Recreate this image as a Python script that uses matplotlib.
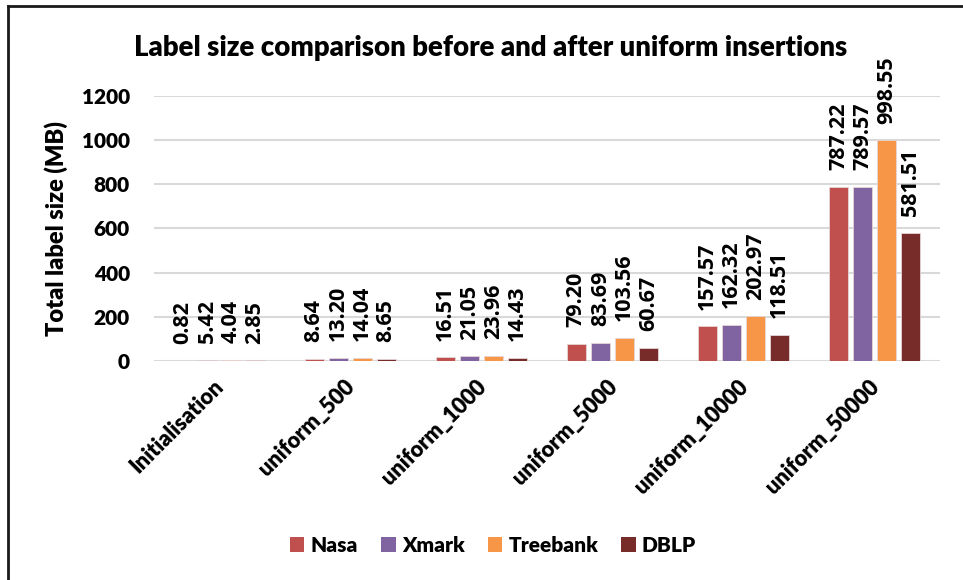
import numpy as np
import matplotlib.pyplot as plt
import matplotlib.transforms as mtransforms
from matplotlib.lines import Line2D
from matplotlib.patches import Patch

categories = ["Initialisation", "uniform_500", "uniform_1000",
              "uniform_5000", "uniform_10000", "uniform_50000"]
series_names = ["Nasa", "Xmark", "Treebank", "DBLP"]
nasa = [0.82, 8.64, 16.51, 79.20, 157.57, 787.22]
xmark = [5.42, 13.20, 21.05, 83.69, 162.32, 789.57]
treebank = [4.04, 14.04, 23.96, 103.56, 202.97, 998.55]
dblp = [2.85, 8.65, 14.43, 60.67, 118.51, 581.51]
colors = ["#C0504D", "#8064A2", "#F79646", "#772C2A"]

label_font = "Lato"
value_font = "Open Sans"
heavy = "heavy"

fig = plt.figure(figsize=(9.63, 5.8), dpi=100)
ax = fig.add_axes([0.1594, 0.3776, 0.8167, 0.4569])

x = np.arange(len(categories))
width = 0.145
step = 0.183
all_series = [nasa, xmark, treebank, dblp]
for i, (name, vals, col) in enumerate(zip(series_names, all_series, colors)):
    pos = x + (i - 1.5) * step
    ax.bar(pos, vals, width=width, color=col, edgecolor="#E6D6D6",
           linewidth=0.6, zorder=3, label=name)
    for px, v in zip(pos, vals):
        ax.annotate(f"{v:.2f}", xy=(px, v), xytext=(0, 12),
                    textcoords="offset points", rotation=90,
                    ha="center", va="bottom", fontsize=15.5,
                    fontweight="bold", family=value_font,
                    annotation_clip=False, zorder=4)

ax.set_xlim(-0.5, len(categories) - 0.5)
ax.set_ylim(0, 1200)
ax.set_yticks(np.arange(0, 1201, 200))
ax.grid(axis="y", color="#D9D9D9", linewidth=1.5, zorder=0)
ax.set_axisbelow(True)
for s in ax.spines.values():
    s.set_visible(False)
ax.tick_params(axis="both", length=0)
ax.tick_params(axis="y", pad=17)
ax.tick_params(axis="x", pad=8)

ax.set_xticks(x)
ax.set_xticklabels(categories, rotation=45, ha="right", va="top",
                   rotation_mode="anchor", fontsize=15.7,
                   fontweight=heavy, family=label_font)
shift = mtransforms.ScaledTranslation(-6 / 100, -4 / 100, fig.dpi_scale_trans)
for t in ax.get_xticklabels():
    t.set_transform(t.get_transform() + shift)
for t in ax.get_yticklabels():
    t.set_fontsize(15)
    t.set_fontweight(heavy)
    t.set_family(label_font)

ax.set_ylabel("Total label size (MB)", fontsize=17, fontweight=heavy,
              family=label_font, labelpad=10)

fig.text(0.509, 0.918, "Label size comparison before and after uniform insertions",
         ha="center", va="center", fontsize=19.8, fontweight=heavy,
         family=label_font)

handles = [Patch(facecolor=c, edgecolor="none") for c in colors]
fig.legend(handles, series_names, loc="center", bbox_to_anchor=(0.512, 0.06),
           ncol=4, frameon=False, handlelength=0.7, handleheight=0.7,
           handletextpad=0.3, columnspacing=1.1,
           prop={"family": label_font, "weight": heavy, "size": 15})

# chart frame: only left and top edges are visible
fig.add_artist(Line2D([0.0085, 0.0085], [0, 0.99], color="#1A1A1A",
                      linewidth=2, transform=fig.transFigure))
fig.add_artist(Line2D([0.0085, 1.0], [0.99, 0.99], color="#1A1A1A",
                      linewidth=2, transform=fig.transFigure))

fig.savefig("out.png", dpi=100)
